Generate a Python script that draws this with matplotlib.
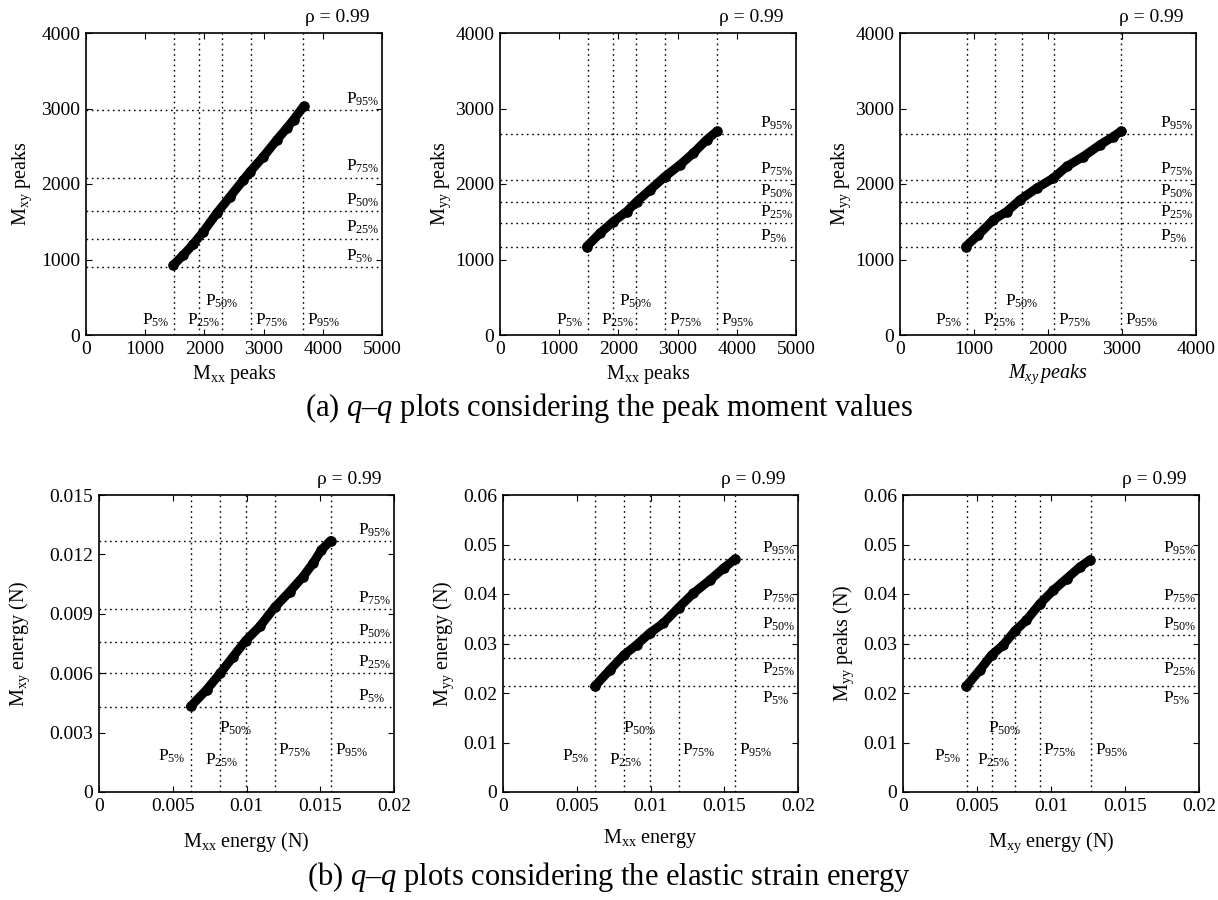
import matplotlib
matplotlib.use("Agg")
import matplotlib.pyplot as plt
from matplotlib.ticker import FuncFormatter
import matplotlib.transforms as mtransforms

plt.rcParams['font.family'] = ['Liberation Serif', 'DejaVu Serif']
plt.rcParams['mathtext.fontset'] = 'custom'
plt.rcParams['mathtext.rm'] = 'Liberation Serif'
plt.rcParams['mathtext.it'] = 'Liberation Serif:italic'
plt.rcParams['mathtext.bf'] = 'Liberation Serif:bold'

# ---- percentile levels (5, 25, 50, 75, 95 %) ----
pct_names = ['5', '25', '50', '75', '95']
mxx_peak_pct = [1482, 1915, 2302, 2783, 3662]
mxy_peak_pct = [905, 1278, 1646, 2085, 2983]
myy_peak_pct = [1162, 1483, 1755, 2055, 2665]
mxx_energy_pct = [0.00621, 0.00821, 0.00995, 0.01191, 0.01571]
mxy_energy_pct = [0.00430, 0.00599, 0.00758, 0.00926, 0.01268]
myy_energy_pct = [0.02132, 0.02711, 0.03175, 0.03726, 0.04702]

# ---- q-q curves ----
qq_peak_xx_xy_x = [1476, 1646, 1815, 1984, 2209, 2435, 2660, 2773, 2998, 3224, 3393, 3506, 3675]
qq_peak_xx_xy_y = [928, 1061, 1206, 1370, 1613, 1834, 2055, 2165, 2364, 2585, 2740, 2851, 3027]
qq_peak_xx_yy_x = [1464, 1689, 1914, 2140, 2309, 2534, 2787, 3041, 3266, 3491, 3660]
qq_peak_xx_yy_y = [1171, 1348, 1502, 1635, 1767, 1922, 2099, 2254, 2409, 2585, 2696]
qq_peak_xy_yy_x = [888, 1058, 1261, 1442, 1622, 1847, 2072, 2253, 2477, 2703, 2883, 2990]
qq_peak_xy_yy_y = [1171, 1326, 1525, 1635, 1790, 1945, 2078, 2232, 2364, 2519, 2629, 2700]
qq_en_xx_xy_x = [0.00621, 0.00729, 0.00821, 0.00910, 0.00995, 0.01090, 0.01191, 0.01293, 0.01384, 0.01451, 0.01508, 0.01571]
qq_en_xx_xy_y = [0.00432, 0.00516, 0.00599, 0.00684, 0.00765, 0.00836, 0.00932, 0.01012, 0.01088, 0.01155, 0.01223, 0.01270]
qq_en_xx_yy_x = [0.00621, 0.00725, 0.00821, 0.00906, 0.00995, 0.01087, 0.01191, 0.01291, 0.01404, 0.01495, 0.01572]
qq_en_xx_yy_y = [0.02132, 0.02469, 0.02770, 0.02973, 0.03210, 0.03410, 0.03726, 0.04016, 0.04285, 0.04520, 0.04702]
qq_en_xy_yy_x = [0.00428, 0.00519, 0.00598, 0.00676, 0.00758, 0.00834, 0.00924, 0.01015, 0.01105, 0.01195, 0.01265]
qq_en_xy_yy_y = [0.02140, 0.02463, 0.02765, 0.02966, 0.03260, 0.03470, 0.03800, 0.04074, 0.04309, 0.04544, 0.04691]

rho_text = '\u03c1 = 0.99'
caption_a = '(a) $q$\u2013$q$ plots considering the peak moment values'
caption_b = '(b) $q$\u2013$q$ plots considering the elastic strain energy'

W, H = 1218, 900
fig = plt.figure(figsize=(W / 100, H / 100), dpi=100)


def px_axes(l, t, r, b):
    return fig.add_axes([l / W, 1 - b / H, (r - l) / W, (b - t) / H])


def fmt(v, pos):
    return '%g' % round(v, 6)


def panel(ax, x, y, xp, yp, xlim, ylim, xticks, yticks, xlabel, ylabel,
          xlab_off, ylab_off, bot_y, bot_style, right_below):
    ax.set_xlim(xlim)
    ax.set_ylim(ylim)
    ax.set_xticks(xticks)
    ax.set_yticks(yticks)
    ax.xaxis.set_major_formatter(FuncFormatter(fmt))
    ax.yaxis.set_major_formatter(FuncFormatter(fmt))
    ax.tick_params(direction='in', length=4, width=0.8, labelsize=14,
                   top=True, right=True, pad=4)
    for s in ax.spines.values():
        s.set_linewidth(1.2)
    dot = (0, (1.2, 2.6))
    for v in xp:
        ax.axvline(v, color='k', lw=1.0, ls=dot, zorder=1)
    for v in yp:
        ax.axhline(v, color='k', lw=1.0, ls=dot, zorder=1)
    ax.plot(x, y, color='k', lw=6.5, solid_capstyle='round',
            solid_joinstyle='round', zorder=3)
    ax.plot(x, y, 'o', ms=6.8, mfc='k', mec='k', mew=0.8, zorder=4)

    # percentile labels at the right edge
    trans_r = mtransforms.blended_transform_factory(ax.transAxes, ax.transData)
    for i, (v, n) in enumerate(zip(yp, pct_names)):
        below = right_below[i]
        ax.annotate('P$_{%s\\%%}$' % n, xy=(0.878, v), xycoords=trans_r,
                    xytext=(0, -2 if below else 1.5), textcoords='offset points',
                    ha='left', va='top' if below else 'bottom', fontsize=12.5)
    # percentile labels along the bottom
    trans_b = mtransforms.blended_transform_factory(ax.transData, ax.transAxes)
    for i, (v, n) in enumerate(zip(xp, pct_names)):
        ha, dx = bot_style[i]
        ax.annotate('P$_{%s\\%%}$' % n, xy=(v, bot_y[i]), xycoords=trans_b,
                    xytext=(dx * 0.72, 0), textcoords='offset points',
                    ha=ha, va='center', fontsize=12.5)

    ax.annotate(rho_text, xy=(1.0, 1.0), xycoords='axes fraction',
                xytext=(-9, 5), textcoords='offset points',
                ha='right', va='bottom', fontsize=14)
    ax.set_xlabel(xlabel, fontsize=14.5, va='center')
    ax.set_ylabel(ylabel, fontsize=14.5, va='center')
    ax.xaxis.set_label_coords(0.5, xlab_off)
    ax.yaxis.set_label_coords(ylab_off, 0.5)


top_bot_y = [0.048, 0.048, 0.11, 0.048, 0.048]
top_bot_style = [('right', -4), ('left', -12), ('left', -17), ('left', 4), ('left', 4)]
low_bot_y = [0.12, 0.107, 0.213, 0.14, 0.14]
low_bot_style = [('right', -5), ('left', -15), ('left', -27), ('left', 3), ('left', 4)]
no_below = [False] * 5
some_below = [True, True, False, False, False]

peak_ticks = [0, 1000, 2000, 3000, 4000]

ax1 = px_axes(86, 33, 382, 335)
panel(ax1, qq_peak_xx_xy_x, qq_peak_xx_xy_y, mxx_peak_pct, mxy_peak_pct,
      (0, 5000), (0, 4000), [0, 1000, 2000, 3000, 4000, 5000], peak_ticks,
      r'M$_{\rm xx}$ peaks', r'M$_{\rm xy}$ peaks', -0.13, -0.215,
      top_bot_y, top_bot_style, no_below)

ax2 = px_axes(500, 33, 796, 335)
panel(ax2, qq_peak_xx_yy_x, qq_peak_xx_yy_y, mxx_peak_pct, myy_peak_pct,
      (0, 5000), (0, 4000), [0, 1000, 2000, 3000, 4000, 5000], peak_ticks,
      r'M$_{\rm xx}$ peaks', r'M$_{\rm yy}$ peaks', -0.13, -0.2,
      top_bot_y, top_bot_style, no_below)

ax3 = px_axes(900, 33, 1196, 335)
panel(ax3, qq_peak_xy_yy_x, qq_peak_xy_yy_y, mxy_peak_pct, myy_peak_pct,
      (0, 4000), (0, 4000), [0, 1000, 2000, 3000, 4000], peak_ticks,
      r'$M_{xy}\,peaks$', r'M$_{\rm yy}$ peaks', -0.13, -0.2,
      top_bot_y, top_bot_style, no_below)

en_xticks = [0, 0.005, 0.01, 0.015, 0.02]

ax4 = px_axes(99, 495, 394, 792)
panel(ax4, qq_en_xx_xy_x, qq_en_xx_xy_y, mxx_energy_pct, mxy_energy_pct,
      (0, 0.02), (0, 0.015), en_xticks, [0, 0.003, 0.006, 0.009, 0.012, 0.015],
      r'M$_{\rm xx}$ energy (N)', r'M$_{\rm xy}$ energy (N)', -0.17, -0.27,
      low_bot_y, low_bot_style, no_below)

ax5 = px_axes(503, 495, 798, 792)
panel(ax5, qq_en_xx_yy_x, qq_en_xx_yy_y, mxx_energy_pct, myy_energy_pct,
      (0, 0.02), (0, 0.06), en_xticks, [0, 0.01, 0.02, 0.03, 0.04, 0.05, 0.06],
      r'M$_{\rm xx}$ energy', r'M$_{\rm yy}$ energy (N)', -0.155, -0.2,
      low_bot_y, low_bot_style, some_below)

ax6 = px_axes(903, 495, 1199, 792)
panel(ax6, qq_en_xy_yy_x, qq_en_xy_yy_y, mxy_energy_pct, myy_energy_pct,
      (0, 0.02), (0, 0.06), en_xticks, [0, 0.01, 0.02, 0.03, 0.04, 0.05, 0.06],
      r'M$_{\rm xy}$ energy (N)', r'M$_{\rm yy}$ peaks (N)', -0.17, -0.2,
      low_bot_y, low_bot_style, some_below)

fig.text(0.5, 1 - 408 / H, caption_a, ha='center', va='center', fontsize=22)
fig.text(0.5, 1 - 877 / H, caption_b, ha='center', va='center', fontsize=22)

fig.savefig('out.png', dpi=100)
